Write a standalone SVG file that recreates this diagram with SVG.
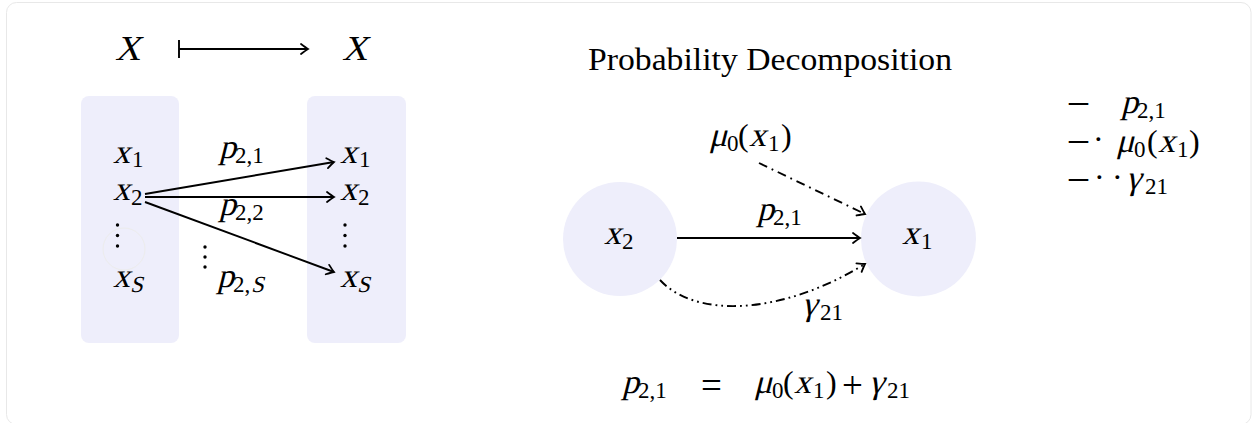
<svg xmlns="http://www.w3.org/2000/svg" width="1252" height="423" viewBox="0 0 1252 423">
<style>
text{font-family:"Liberation Serif",serif;font-style:normal;fill:#000}
.v{font-size:34px}
.r{font-size:32px}
.op{font-size:37px}
.s{font-size:23px}
.ln{fill:none;stroke:#000;stroke-width:1.9}
.dd{stroke-dasharray:9 5 1.8 5}
.ddd{stroke-dasharray:9 4 1.8 4 1.8 4}
.box{fill:#eeeefb}
.dot{fill:#000}
.dash{font-size:38px}
</style>
<defs>
<marker id="ah" markerUnits="userSpaceOnUse" markerWidth="12" markerHeight="14" viewBox="-10 -7 12 14" refX="0" refY="0" orient="auto">
<path d="M-7,-5 Q-2,-1.2 0,0 Q-2,1.2 -7,5" fill="none" stroke="#000" stroke-width="1.8" stroke-linecap="round"/>
</marker>
</defs>
<rect x="6.5" y="2.5" width="1244.5" height="422" rx="10" fill="#fff" stroke="#e8e8e8" stroke-width="1"/>

<g id="header">
<text class="v" style="font-size:35px" transform="translate(115,60) skewX(-14)">X</text>
<text class="v" style="font-size:35px" transform="translate(342,60) skewX(-14)">X</text>
</g>

<g id="left-set">
<rect class="box" x="81" y="96" width="98" height="247" rx="8"/>
<circle cx="124" cy="249" r="21" fill="none" stroke="#ececec" stroke-width="1"/>
<g transform="translate(113,163)"><text class="v" transform="skewX(-14)">x</text><text class="s" x="19" y="4">1</text></g>
<g transform="translate(113,200)"><text class="v" transform="skewX(-14)">x</text><text class="s" x="18" y="5">2</text></g>
<circle class="dot" cx="117.5" cy="225" r="1.7"/>
<circle class="dot" cx="117.5" cy="235.5" r="1.7"/>
<circle class="dot" cx="117.5" cy="246" r="1.7"/>
<g transform="translate(113,287)"><text class="v" transform="skewX(-14)">x</text><text class="s" transform="translate(17,5) skewX(-14)">S</text></g>
</g>

<g id="right-set">
<rect class="box" x="307" y="96" width="99" height="247" rx="8"/>
<g transform="translate(340,163)"><text class="v" transform="skewX(-14)">x</text><text class="s" x="19" y="4">1</text></g>
<g transform="translate(340,200)"><text class="v" transform="skewX(-14)">x</text><text class="s" x="18" y="5">2</text></g>
<circle class="dot" cx="345" cy="225" r="1.7"/>
<circle class="dot" cx="345" cy="235.5" r="1.7"/>
<circle class="dot" cx="345" cy="246" r="1.7"/>
<g transform="translate(340,287)"><text class="v" transform="skewX(-14)">x</text><text class="s" transform="translate(17,5) skewX(-14)">S</text></g>
</g>

<g id="left-labels">
<g transform="translate(219,158)"><text class="v" transform="skewX(-14)">p</text><text class="s" x="16" y="5">2,1</text></g>
<g transform="translate(219,215)"><text class="v" transform="skewX(-14)">p</text><text class="s" x="16" y="5">2,2</text></g>
<circle class="dot" cx="205" cy="247" r="1.7"/>
<circle class="dot" cx="205" cy="257" r="1.7"/>
<circle class="dot" cx="205" cy="267" r="1.7"/>
<g transform="translate(217,287)"><text class="v" transform="skewX(-14)">p</text><text class="s" x="16" y="5">2,</text><text class="s" transform="translate(34,5) skewX(-14)">S</text></g>
</g>

<g id="title">
<text class="r" x="588" y="70" textLength="364" lengthAdjust="spacingAndGlyphs">Probability Decomposition</text>
</g>

<g id="node-x2">
<circle class="box" cx="620" cy="239" r="57"/>
<g transform="translate(604,244)"><text class="v" transform="skewX(-14)">x</text><text class="s" x="18" y="5">2</text></g>
</g>

<g id="node-x1">
<circle class="box" cx="918.5" cy="239" r="57.5"/>
<g transform="translate(902,244)"><text class="v" transform="skewX(-14)">x</text><text class="s" x="19" y="5">1</text></g>
</g>

<g id="edge-labels">
<g transform="translate(757,220)"><text class="v" transform="skewX(-14)">p</text><text class="s" x="16" y="5">2,1</text></g>
<g transform="translate(709,146)"><text class="v" transform="skewX(-14)">μ</text><text class="s" x="18" y="5">0</text><text class="r" x="29">(</text><text class="v" transform="translate(40,0) skewX(-14)">x</text><text class="s" x="59" y="5">1</text><text class="r" x="72">)</text></g>
<g transform="translate(802,315)"><text class="v" transform="skewX(-14)">γ</text><text class="s" x="18" y="5">21</text></g>
</g>

<g id="legend">
<text class="dash" x="1069" y="113">–</text>
<g transform="translate(1121,113)"><text class="v" transform="skewX(-14)">p</text><text class="s" x="16" y="5">2,1</text></g>
<text class="dash" x="1069" y="151">–</text>
<text class="r" x="1093" y="150">·</text>
<g transform="translate(1116,152)"><text class="v" transform="skewX(-14)">μ</text><text class="s" x="18" y="5">0</text><text class="r" x="31">(</text><text class="v" transform="translate(42,0) skewX(-14)">x</text><text class="s" x="61" y="5">1</text><text class="r" x="73">)</text></g>
<text class="dash" x="1069" y="189">–</text>
<text class="r" x="1094" y="188">·</text>
<text class="r" x="1112" y="188">·</text>
<g transform="translate(1126,189)"><text class="v" transform="skewX(-14)">γ</text><text class="s" x="19" y="5">21</text></g>
</g>

<g id="equation">
<g transform="translate(622,393)"><text class="v" transform="skewX(-14)">p</text><text class="s" x="16" y="5">2,1</text></g>
<text class="op" x="701" y="398">=</text>
<g transform="translate(754,393)"><text class="v" transform="skewX(-14)">μ</text><text class="s" x="18" y="5">0</text><text class="r" x="29">(</text><text class="v" transform="translate(40,0) skewX(-14)">x</text><text class="s" x="59" y="5">1</text><text class="r" x="72">)</text></g>
<text class="op" x="842" y="398">+</text>
<g transform="translate(869,393)"><text class="v" transform="skewX(-14)">γ</text><text class="s" x="18" y="5">21</text></g>
</g>

<g id="connectors">
<line class="ln" x1="179" y1="40" x2="179" y2="58"/>
<line class="ln" x1="179" y1="49" x2="308" y2="49" marker-end="url(#ah)"/>
<line class="ln" x1="145" y1="194" x2="334" y2="162" marker-end="url(#ah)"/>
<line class="ln" x1="145" y1="197" x2="334" y2="197" marker-end="url(#ah)"/>
<line class="ln" x1="145" y1="202" x2="334" y2="272" marker-end="url(#ah)"/>
<line class="ln" x1="677" y1="238" x2="860" y2="238" marker-end="url(#ah)"/>
<line class="ln dd" x1="759" y1="163" x2="865" y2="214" marker-end="url(#ah)"/>
<path class="ln ddd" d="M660,280 C695,318 780,316 865,264" marker-end="url(#ah)"/>
</g>
</svg>
